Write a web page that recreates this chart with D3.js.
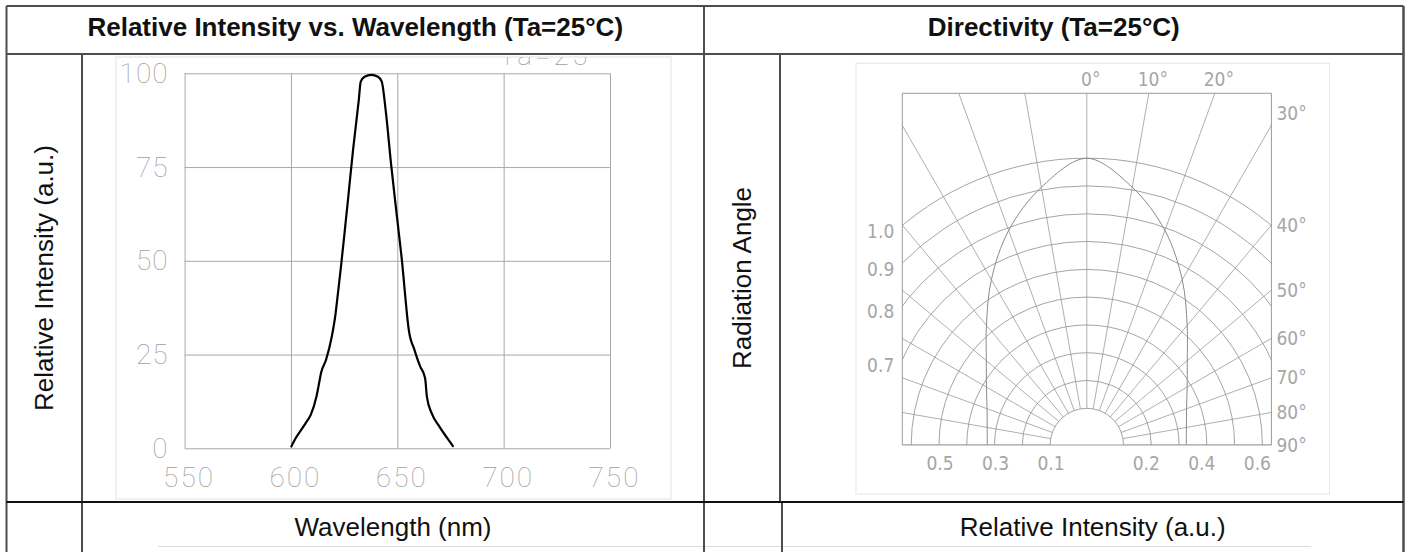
<!DOCTYPE html>
<html>
<head>
<meta charset="utf-8">
<script src="https://cdn.jsdelivr.net/npm/d3@7/dist/d3.min.js"></script>
<style>
  html, body { margin: 0; padding: 0; background: #fff; }
  svg { display: block; }
</style>
</head>
<body>
<svg id="chart" width="1411" height="552"></svg>
<script>
// ---------------- DATA ----------------
const leftTitle = "Relative Intensity vs. Wavelength (Ta=25°C)";
const rightTitle = "Directivity (Ta=25°C)";
const leftYTitle = "Relative Intensity (a.u.)";
const rightYTitle = "Radiation Angle";
const leftXTitle = "Wavelength (nm)";
const rightXTitle = "Relative Intensity (a.u.)";
const clippedNote = "Ta=25";

const wavelengthTicks = [550, 600, 650, 700, 750];
const intensityTicks = [0, 25, 50, 75, 100];

const spectrumWavelength = [600.2, 602, 604.8, 607, 609.3, 612, 613.8, 614.2, 616.5, 619.2, 621, 621.9,
  623.7, 625.5, 626.8, 629.2, 631.9, 632.8, 634.6, 637.8, 640.9, 642.7, 644.5, 647.2, 649.1, 650.9,
  652.3, 653.6, 654.5, 655.4, 658.1, 660.8, 662.6, 663.2, 663.9, 666.2, 669.8, 673.5, 676.1];
const spectrumIntensity = [0.5, 2.5, 4.9, 6.8, 8.9, 13.8, 19.1, 20.2, 23.6, 29.8, 36, 40.4,
  49.4, 59.1, 66.2, 79.6, 92.9, 97.8, 99.1, 99.6, 99.1, 97.8, 90.3, 75.1, 65.4, 56.5,
  49.4, 41.4, 36, 31.6, 26.2, 21.8, 19.6, 18.2, 13.8, 9.3, 5.8, 2.7, 0.6];

// polar grid
const ringValues = [0.1, 0.2, 0.3, 0.4, 0.5, 0.6, 0.7, 0.8, 0.9, 1.0];
const radialAngles = [-90, -80, -70, -60, -50, -40, -30, -20, -10, 0, 10, 20, 30, 40, 50, 60, 70, 80, 90];
const topAngleLabels = [0, 10, 20];
const sideAngleLabels = [30, 40, 50, 60, 70, 80, 90];
const leftValueLabels = [1.0, 0.9, 0.8, 0.7];
const bottomLeftLabels = [0.5, 0.3, 0.1];
const bottomRightLabels = [0.2, 0.4, 0.6];

// radiation pattern
const patternAngles = [-90, -80, -70, -60, -50, -40, -30, -20, -10, 0, 10, 20, 30, 40, 50, 60, 70, 80, 90];
const patternValues = [0.326, 0.332, 0.35, 0.385, 0.44, 0.53, 0.655, 0.79, 0.91, 1.0, 0.91, 0.79, 0.655, 0.53, 0.44, 0.385, 0.35, 0.332, 0.326];

// ---------------- DRAW ----------------
const svg = d3.select("#chart");
const border = "#4d4d4d";

// table structure
const T = { left: 6.5, right: 1403.5, top: 6, titleBottom: 54, rowBottom: 502, bottom: 552,
            colMid: 704, leftInner: 82, rightInner: 780, rightInnerLow: 782 };

// faint lines of the lower (cut-off) images
svg.append("line").attr("x1", 158).attr("x2", 1311).attr("y1", 546.5).attr("y2", 546.5)
  .attr("stroke", "#dcdcdc").attr("stroke-width", 1);

// titles
const titleFont = "'Liberation Sans', Arial, Helvetica, sans-serif";
svg.append("text").attr("x", (T.left + T.colMid) / 2).attr("y", 35.5)
  .attr("text-anchor", "middle").attr("font-family", titleFont).attr("font-weight", "bold")
  .attr("font-size", 26).attr("fill", "#111").text(leftTitle);
svg.append("text").attr("x", (T.colMid + T.right) / 2).attr("y", 35.5)
  .attr("text-anchor", "middle").attr("font-family", titleFont).attr("font-weight", "bold")
  .attr("font-size", 26).attr("fill", "#111").text(rightTitle);

// axis titles (rotated)
svg.append("text").attr("transform", `translate(${(T.left + T.leftInner) / 2 + 9},278) rotate(-90)`)
  .attr("text-anchor", "middle").attr("font-family", titleFont).attr("font-size", 26)
  .attr("fill", "#111").text(leftYTitle);
svg.append("text").attr("transform", `translate(${(T.colMid + T.rightInner) / 2 + 9},278) rotate(-90)`)
  .attr("text-anchor", "middle").attr("font-family", titleFont).attr("font-size", 26)
  .attr("fill", "#111").text(rightYTitle);

// bottom row titles
svg.append("text").attr("x", (T.leftInner + T.colMid) / 2).attr("y", 536)
  .attr("text-anchor", "middle").attr("font-family", titleFont).attr("font-size", 26)
  .attr("fill", "#111").text(leftXTitle);
svg.append("text").attr("x", (T.rightInnerLow + T.right) / 2).attr("y", 536)
  .attr("text-anchor", "middle").attr("font-family", titleFont).attr("font-size", 26)
  .attr("fill", "#111").text(rightXTitle);

// ---------- left chart: spectrum ----------
const L = { frameX: 116, frameY: 57, frameW: 555, frameH: 442, x0: 184.6, x1: 610, y0: 448.3, y1: 73.3 };
svg.append("rect").attr("x", L.frameX).attr("y", L.frameY).attr("width", L.frameW).attr("height", L.frameH)
  .attr("fill", "none").attr("stroke", "#e2e2e2").attr("stroke-width", 1);

const x = d3.scaleLinear().domain([550, 750]).range([L.x0, L.x1]);
const y = d3.scaleLinear().domain([0, 100]).range([L.y0, L.y1]);
const tickFont = "Roboto, 'DejaVu Sans', sans-serif";

const gx = svg.append("g").attr("transform", `translate(0,${L.y0})`)
  .call(d3.axisBottom(x).tickValues(wavelengthTicks).tickFormat(d3.format("d"))
    .tickSize(-(L.y0 - L.y1)).tickPadding(19));
const gy = svg.append("g").attr("transform", `translate(${L.x0},0)`)
  .call(d3.axisLeft(y).tickValues(intensityTicks).tickFormat(d3.format("d"))
    .tickSize(-(L.x1 - L.x0)).tickPadding(16));
[gx, gy].forEach(g => {
  g.select(".domain").remove();
  g.selectAll(".tick line").attr("stroke", "#a8a8a8").attr("stroke-width", 1);
  g.selectAll(".tick text").attr("font-family", tickFont).attr("font-weight", 100)
    .attr("font-size", 28).attr("fill", "#a0a0a0").attr("letter-spacing", 1);
});
gx.selectAll(".tick text").attr("dx", 4).attr("letter-spacing", 2);

// clipped "Ta=25" note at the top edge of the frame
const clipL = svg.append("clipPath").attr("id", "clipLeftFrame");
clipL.append("rect").attr("x", L.frameX).attr("y", L.frameY).attr("width", L.frameW).attr("height", L.frameH);
svg.append("text").attr("clip-path", "url(#clipLeftFrame)")
  .attr("x", 499).attr("y", 65).attr("font-family", tickFont).attr("font-weight", 100)
  .attr("font-size", 28).attr("fill", "#a0a0a0").attr("letter-spacing", 3).text(clippedNote);

const spectrum = spectrumWavelength.map((w, i) => [w, spectrumIntensity[i]]);
svg.append("path").datum(spectrum)
  .attr("fill", "none").attr("stroke", "#000").attr("stroke-width", 2.2)
  .attr("stroke-linejoin", "round").attr("stroke-linecap", "round")
  .attr("d", d3.line().x(d => x(d[0])).y(d => y(d[1])).curve(d3.curveMonotoneX));

// ---------- right chart: directivity polar ----------
const P = { frameX: 856, frameY: 63.3, frameW: 473.5, frameH: 430.7,
            cx: 1086.8, cy: 445, left: 902.3, right: 1271.4, top: 93.3 };
svg.append("rect").attr("x", P.frameX).attr("y", P.frameY).attr("width", P.frameW).attr("height", P.frameH)
  .attr("fill", "none").attr("stroke", "#e6e6e6").attr("stroke-width", 1);

const r = d3.scaleLinear().domain([0.1, 1.0]).range([36.7, 286.7]);
const rad = d => d * Math.PI / 180;

const clipP = svg.append("clipPath").attr("id", "clipPolar");
clipP.append("rect").attr("x", P.left).attr("y", P.top).attr("width", P.right - P.left).attr("height", P.cy - P.top);

const gridColor = "#9a9a9a";
const pg = svg.append("g").attr("clip-path", "url(#clipPolar)");

// rings
ringValues.forEach(v => {
  const p = d3.path();
  p.arc(P.cx, P.cy, r(v), -Math.PI, 0);
  pg.append("path").attr("d", p.toString()).attr("fill", "none")
    .attr("stroke", gridColor).attr("stroke-width", 0.9);
});
// radial lines
radialAngles.forEach(a => {
  const r0 = r(ringValues[0]), r1 = 600;
  pg.append("line")
    .attr("x1", P.cx + r0 * Math.sin(rad(a))).attr("y1", P.cy - r0 * Math.cos(rad(a)))
    .attr("x2", P.cx + r1 * Math.sin(rad(a))).attr("y2", P.cy - r1 * Math.cos(rad(a)))
    .attr("stroke", gridColor).attr("stroke-width", 0.8);
});
// pattern curve
const pattern = patternAngles.map((a, i) => [rad(a), r(patternValues[i])]);
pg.append("path").datum(pattern)
  .attr("transform", `translate(${P.cx},${P.cy})`)
  .attr("fill", "none").attr("stroke", "#8a8a8a").attr("stroke-width", 1)
  .attr("d", d3.lineRadial().angle(d => d[0]).radius(d => d[1]).curve(d3.curveCatmullRom));

// plot border (top, left, right, bottom)
svg.append("path")
  .attr("d", `M${P.left},${P.cy}V${P.top}H${P.right}V${P.cy}Z`)
  .attr("fill", "none").attr("stroke", gridColor).attr("stroke-width", 1);

// polar labels
const labFont = "'Liberation Sans Narrow', 'DejaVu Sans Condensed', sans-serif";
const labStyle = s => s.attr("font-family", labFont).attr("font-size", 19).attr("fill", "#a6a6a6");
const H = P.cy - P.top, W = P.right - P.cx;

topAngleLabels.forEach(a => {
  const xx = P.cx + H * Math.tan(rad(a));
  svg.append("text").call(labStyle).attr("x", xx + 4).attr("y", P.top - 7)
    .attr("text-anchor", "middle").text(a + "°");
});
sideAngleLabels.forEach(a => {
  let yy = P.cy - W / Math.tan(rad(a));
  if (a === 30) yy -= 12;
  svg.append("text").call(labStyle).attr("x", P.right + 5).attr("y", yy)
    .attr("dy", "0.35em").text(a + "°");
});
leftValueLabels.forEach(v => {
  const R = r(v), dx = P.cx - P.left;
  const yy = P.cy - Math.sqrt(R * R - dx * dx);
  svg.append("text").call(labStyle).attr("x", P.left - 8).attr("y", yy + 6)
    .attr("dy", "0.35em").attr("text-anchor", "end").text(v.toFixed(1));
});
bottomLeftLabels.forEach(v => {
  svg.append("text").call(labStyle).attr("x", P.cx - r(v) + 1).attr("y", 463)
    .attr("dy", "0.35em").attr("text-anchor", "middle").text(v.toFixed(1));
});
bottomRightLabels.forEach(v => {
  svg.append("text").call(labStyle).attr("x", P.cx + r(v) - 5).attr("y", 463)
    .attr("dy", "0.35em").attr("text-anchor", "middle").text(v.toFixed(1));
});

// ---------- table lines ----------
const tl = (x1, y1, x2, y2, c, w) => svg.append("line").attr("x1", x1).attr("y1", y1)
  .attr("x2", x2).attr("y2", y2).attr("stroke", c).attr("stroke-width", w);
tl(T.left, T.top, T.right, T.top, border, 2);
tl(T.left, T.top, T.left, T.bottom, border, 2);
tl(T.right, T.top, T.right, T.bottom, border, 2.5);
tl(T.left, T.titleBottom, T.right, T.titleBottom, border, 2);
tl(T.colMid, T.top, T.colMid, T.bottom, border, 2);
tl(T.leftInner, T.titleBottom, T.leftInner, T.bottom, border, 2);
tl(T.rightInner, T.titleBottom, T.rightInner, T.rowBottom, border, 2);
tl(T.rightInnerLow, T.rowBottom, T.rightInnerLow, T.bottom, border, 2);
tl(T.left, T.rowBottom, T.right, T.rowBottom, "#111", 2);
</script>
</body>
</html>
